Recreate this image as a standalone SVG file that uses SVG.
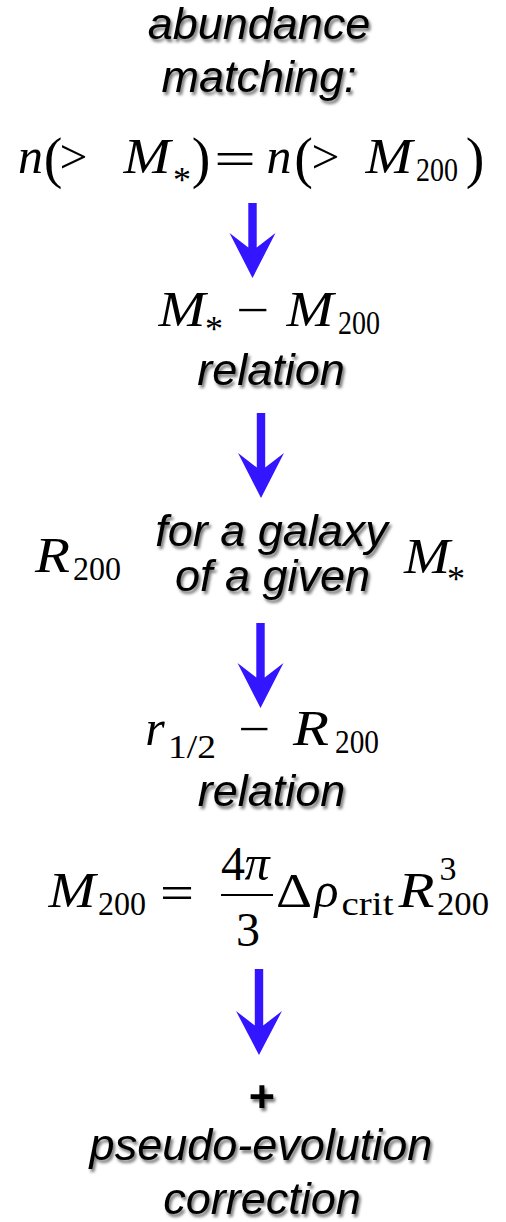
<svg xmlns="http://www.w3.org/2000/svg" width="506" height="1222" viewBox="0 0 506 1222">
<defs>
<filter id="sh" x="-10%" y="-30%" width="120%" height="160%">
<feDropShadow dx="2" dy="3" stdDeviation="1.5" flood-color="#000" flood-opacity="0.55"/>
</filter>
</defs>
<style>
.t{font-family:'Liberation Sans',Arial,sans-serif;font-style:italic;font-size:45px;fill:#000;text-anchor:middle;filter:url(#sh)}
.p{font-family:'Liberation Sans',Arial,sans-serif;font-weight:bold;font-size:45px;fill:#000;text-anchor:middle;filter:url(#sh)}
.mi{font-family:'Liberation Serif','Times New Roman',serif;font-style:italic;font-size:50px;fill:#000;text-anchor:middle}
.mr{font-family:'Liberation Serif','Times New Roman',serif;font-size:48px;fill:#000;text-anchor:middle}
.s{font-size:34px}
.st{font-size:36px}
.par{font-size:56px}
.arr{fill:#3315ff}
</style>
<rect width="506" height="1222" fill="#fff"/>

<g id="abundance-matching">
<text class="t" x="259" y="39">abundance</text>
<text class="t" x="259" y="92">matching:</text>
<text class="mi" x="30.5" y="173">n</text>
<text class="mr par" x="53" y="177">(</text>
<text class="mr" x="73.5" y="173" textLength="28" lengthAdjust="spacingAndGlyphs">&gt;</text>
<text class="mi" x="147" y="173" textLength="47" lengthAdjust="spacingAndGlyphs">M</text>
<text class="mr st" x="182" y="192">*</text>
<text class="mr par" x="201" y="177">)</text>
<text class="mr" x="235" y="175" font-size="52" textLength="42" lengthAdjust="spacingAndGlyphs">=</text>
<text class="mi" x="279" y="173">n</text>
<text class="mr par" x="303.5" y="177">(</text>
<text class="mr" x="325.5" y="173" textLength="28" lengthAdjust="spacingAndGlyphs">&gt;</text>
<text class="mi" x="389" y="173" textLength="47" lengthAdjust="spacingAndGlyphs">M</text>
<text class="mr s" x="437" y="181" textLength="42" lengthAdjust="spacingAndGlyphs">200</text>
<text class="mr par" x="475" y="177">)</text>
</g>

<g id="mstar-m200-relation">
<text class="mi" x="182" y="326" textLength="47" lengthAdjust="spacingAndGlyphs">M</text>
<text class="mr st" x="214" y="341">*</text>
<text class="mr" x="252.5" y="326" textLength="33" lengthAdjust="spacingAndGlyphs">−</text>
<text class="mi" x="310" y="326" textLength="47" lengthAdjust="spacingAndGlyphs">M</text>
<text class="mr s" x="359" y="334" textLength="42" lengthAdjust="spacingAndGlyphs">200</text>
<text class="t" x="271" y="385">relation</text>
</g>

<g id="r200-given-mstar">
<text class="mi" x="52.5" y="572" textLength="35" lengthAdjust="spacingAndGlyphs">R</text>
<text class="mr s" x="97" y="580" textLength="48" lengthAdjust="spacingAndGlyphs">200</text>
<text class="t" x="271.5" y="546">for a galaxy</text>
<text class="t" x="272.5" y="591">of a given</text>
<text class="mi" x="427" y="573" textLength="46" lengthAdjust="spacingAndGlyphs">M</text>
<text class="mr st" x="456" y="591">*</text>
</g>

<g id="rhalf-r200-relation">
<text class="mi" x="155" y="745">r</text>
<text class="mr s" x="192" y="758" textLength="48" lengthAdjust="spacingAndGlyphs">1/2</text>
<text class="mr" x="254" y="745" textLength="32" lengthAdjust="spacingAndGlyphs">−</text>
<text class="mi" x="311" y="745" textLength="36" lengthAdjust="spacingAndGlyphs">R</text>
<text class="mr s" x="357" y="753" textLength="44" lengthAdjust="spacingAndGlyphs">200</text>
<text class="t" x="271.5" y="806">relation</text>
</g>

<g id="m200-definition">
<text class="mi" x="72" y="907" textLength="47" lengthAdjust="spacingAndGlyphs">M</text>
<text class="mr s" x="122" y="915" textLength="48" lengthAdjust="spacingAndGlyphs">200</text>
<text class="mr" x="177" y="909" font-size="52" textLength="34" lengthAdjust="spacingAndGlyphs">=</text>
<text class="mr" x="233" y="880" font-size="40">4</text>
<text class="mi" x="257" y="880" font-size="40">π</text>
<rect x="221" y="894" width="52" height="2" fill="#000"/>
<text class="mr" x="248" y="946" font-size="40">3</text>
<text class="mr" x="294" y="907" textLength="36" lengthAdjust="spacingAndGlyphs">Δ</text>
<text class="mi" x="326.5" y="907" font-size="48">ρ</text>
<text class="mr s" x="367.5" y="915" textLength="52" lengthAdjust="spacingAndGlyphs">crit</text>
<text class="mi" x="416.5" y="907" textLength="36" lengthAdjust="spacingAndGlyphs">R</text>
<text class="mr s" x="448" y="880">3</text>
<text class="mr s" x="463" y="915" textLength="52" lengthAdjust="spacingAndGlyphs">200</text>
</g>

<g id="pseudo-evolution">
<text class="p" x="262" y="1112">+</text>
<text class="t" x="261" y="1160">pseudo-evolution</text>
<text class="t" x="262" y="1214">correction</text>
</g>

<g id="connectors">
<path class="arr" d="M248.3,203 H256.7 V247.5 L275.5,233 L252.5,278 L229.5,233 L248.3,247.5 Z"/>
<path class="arr" d="M256.8,413 H265.2 V467.5 L284,453 L261,498 L238,453 L256.8,467.5 Z"/>
<path class="arr" d="M256.3,623 H264.7 V677.5 L283.5,663 L260.5,708 L237.5,663 L256.3,677.5 Z"/>
<path class="arr" d="M254.8,969 H263.2 V1025.5 L282,1011 L259,1055 L236,1011 L254.8,1025.5 Z"/>
</g>
</svg>
